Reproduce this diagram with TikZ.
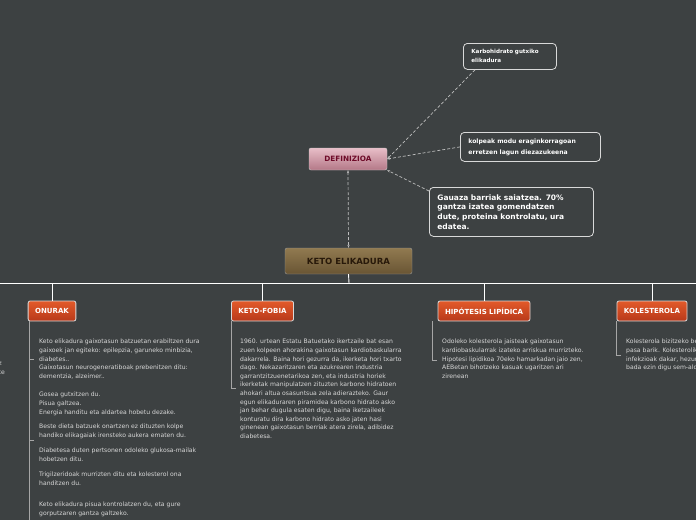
\documentclass[tikz,border=0pt]{standalone}
\usepackage{fontspec}
\setmainfont{DejaVu Sans}
\usetikzlibrary{arrows.meta}
\definecolor{bg}{HTML}{3D4142}
\definecolor{txt}{HTML}{D8D8D8}
\definecolor{orA}{HTML}{E25A2A}
\definecolor{orB}{HTML}{B8391A}
\begin{document}
\begin{tikzpicture}[x=1pt,y=-1pt,
  orbox/.style={draw=white!85!black,line width=0.8pt,rounded corners=2pt,top color=orA,bottom color=orB,text=white,font=\bfseries\fontsize{7}{8}\selectfont,minimum height=20pt,inner xsep=7pt},
  wbox/.style={draw=white!85!black,line width=0.8pt,rounded corners=4pt,fill=bg,text=white,font=\bfseries\fontsize{5.6}{9}\selectfont,align=left,anchor=north west,inner sep=0pt},
  para/.style={text=txt,font=\fontsize{6.1}{8.6}\selectfont,align=left,anchor=north west,inner sep=0pt},
  gl/.style={draw=gray!70,line width=0.8pt},
  wl/.style={draw=white,line width=0.9pt},
  dashln/.style={draw=white!75!black,line width=0.7pt,dash pattern=on 3pt off 2pt}]
\fill[bg] (0,0) rectangle (696,520);
\clip (0,0) rectangle (696,520);
% main
\node[draw=white!60!black,rounded corners=2pt,top color={rgb,255:red,145;green,122;blue,80},bottom color={rgb,255:red,105;green,85;blue,52},minimum width=127pt,minimum height=26pt,font=\bfseries\fontsize{8.5}{9}\selectfont,text={rgb,255:red,40;green,25;blue,10}] (keto) at (348.5,261) {KETO ELIKADURA};
\node[draw=white!80!black,rounded corners=2pt,top color={rgb,255:red,232;green,190;blue,200},bottom color={rgb,255:red,180;green,120;blue,135},minimum width=78pt,minimum height=22pt,font=\bfseries\fontsize{7.3}{8}\selectfont,text={rgb,255:red,110;green,10;blue,40}] (def) at (348,159) {DEFINIZIOA};
% definition boxes
\node[wbox,draw,inner xsep=8pt,inner ysep=4pt,minimum height=26pt,text width=77pt] (k1) at (463,43) {Karbohidrato gutxiko\\elikadura};
\node[wbox,draw,inner xsep=8pt,inner ysep=4pt,minimum height=29pt,text width=124pt,font=\bfseries\fontsize{6.1}{11}\selectfont] (k2) at (460,132) {kolpeak modu eraginkorragoan\\erretzen lagun diezazukeena};
\node[wbox,draw,inner xsep=8pt,inner ysep=4pt,minimum height=49pt,text width=148pt,font=\bfseries\fontsize{7.5}{9.7}\selectfont] (k3) at (429,187) {Gauaza barriak saiatzea. 70\%\\gantza izatea gomendatzen\\dute, proteina kontrolatu, ura\\edatea.};
\draw[dashln,{Stealth[length=3pt]}-{Stealth[length=3pt]}] (def.south) -- (keto.north);
\draw[dashln,-{Stealth[length=3pt]}] (k1.south west) ++(12,0) -- (def.east);
\draw[dashln,-{Stealth[length=3pt]}] (k2.west) -- (def.east);
\draw[dashln,-{Stealth[length=3pt]}] (k3.north west) ++(0,4) -- (def.south east);
% tree lines
\draw[wl] (keto.south) -- (349,283);
\draw[wl] (0,283) -- (696,283);
\node[orbox] (on) at (52,311) {ONURAK};
\node[orbox] (kf) at (262.5,311) {KETO-FOBIA};
\node[orbox] (hl) at (484,311) {HIPÓTESIS LIPÍDICA};
\node[orbox] (ko) at (652,311) {KOLESTEROLA};
\foreach \n/\x in {on/52,kf/262.5,hl/484,ko/652} \draw[wl] (\x,283) -- (\n.north);
% ONURAK text
\draw[gl] (29,321) -- (29,520);
\draw[gl] (29,359) -- (34,359);
\draw[gl] (29,440) -- (34,440);
\node[para] at (39,339) {Keto elikadura gaixotasun batzuetan erabiltzen dura\\gaixoek jan egiteko: epilepzia, garuneko minbizia,\\diabetes..\\Gaixotasun neurogeneratiboak prebenitzen ditu:\\dementzia, alzeimer..};
\node[para] at (39,392) {Gosea gutxitzen du.\\Pisua galtzea.\\Energia handitu eta aldartea hobetu dezake.};
\node[para] at (39,424) {Beste dieta batzuek onartzen ez dituzten kolpe\\handiko elikagaiak irensteko aukera ematen du.};
\node[para] at (39,448) {Diabetesa duten pertsonen odoleko glukosa-mailak\\hobetzen ditu.};
\node[para] at (39,472) {Trigilzeridoak murrizten ditu eta kolesterol ona\\handitzen du.};
\node[para] at (39,502) {Keto elikadura pisua kontrolatzen du, eta gure\\gorputzaren gantza galtzeko.};
\node[para,anchor=north east] at (5,362) {z\\te};
% KETO-FOBIA
\draw[gl] (231,321) -- (231,388) -- (236,388);
\node[para] at (240,339) {1960. urtean Estatu Batuetako ikertzaile bat esan\\zuen kolpeen ahorakina gaixotasun kardiobaskularra\\dakarrela. Baina hori gezurra da, ikerketa hori txarto\\dago. Nekazaritzaren eta azukrearen industria\\garrantzitzuenetarikoa zen, eta industria horiek\\ikerketak manipulatzen zituzten karbono hidratoen\\ahokari altua osasuntsua zela adierazteko. Gaur\\egun elikaduraren piramidea karbono hidrato asko\\jan behar dugula esaten digu, baina iketzaileek\\konturatu dira karbono hidrato asko jaten hasi\\ginenean gaixotasun berriak atera zirela, adibidez\\diabetesa.};
% HIPOTESIS
\draw[gl] (432,321) -- (432,360) -- (437,360);
\node[para] at (442,339) {Odoleko kolesterola jaisteak gaixotasun\\kardiobaskularrak izateko arriskua murrizteko.\\Hipotesi lipidikoa 70eko hamarkadan jaio zen,\\AEBetan bihotzeko kasuak ugaritzen ari\\zirenean};
% KOLESTEROLA
\draw[gl] (616,321) -- (616,355) -- (621,355);
\node[para] at (626,339) {Kolesterola bizitzeko beharrezkoa da\\pasa barik. Kolesterolik gabe\\infekzioak dakar, hezurrak\\bada ezin digu sem-aldatu};
\end{tikzpicture}
\end{document}
